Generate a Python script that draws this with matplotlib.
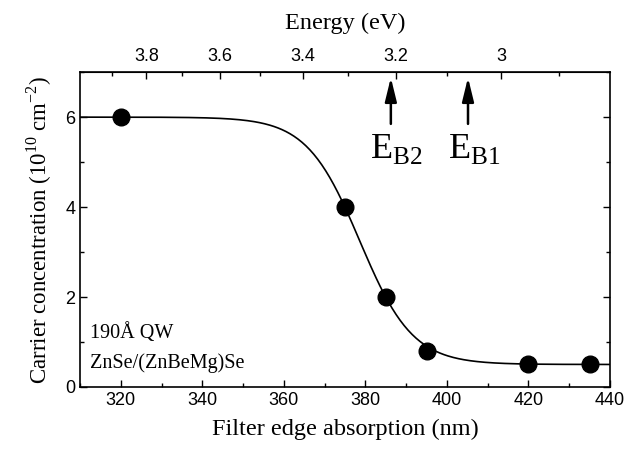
import matplotlib
matplotlib.use("Agg")
import matplotlib.pyplot as plt
import numpy as np

SANS = "Liberation Sans"
SERIF = "Liberation Serif"
plt.rcParams["font.family"] = SANS
plt.rcParams["mathtext.fontset"] = "custom"
plt.rcParams["mathtext.rm"] = SERIF

# measured points
wavelength = [320, 375, 385, 395, 420, 435]
carrier = [6.0, 4.0, 2.0, 0.8, 0.5, 0.5]

# Boltzmann fit through the points
fit_top, fit_bottom, fit_center, fit_width = 6.0, 0.5, 378.6, 6.5

energy_ticks = [3.8, 3.6, 3.4, 3.2, 3.0]
energy_labels = ["3.8", "3.6", "3.4", "3.2", "3"]
energy_minor = [3.9, 3.7, 3.5, 3.3, 3.1, 2.9]

# band edges marked with arrows (eV)
edge_names = ["E$_{\\mathrm{B2}}$", "E$_{\\mathrm{B1}}$"]
edge_energy = [3.21, 3.06]

HC = 1239.84  # eV nm

fig = plt.figure(figsize=(6.36, 4.51), dpi=100)
ax = fig.add_axes([0.126, 0.142, 0.833, 0.698])

xs = np.linspace(310, 440, 400)
ys = fit_bottom + (fit_top - fit_bottom) / (1 + np.exp((xs - fit_center) / fit_width))
ax.plot(xs, ys, color="black", lw=1.2, zorder=2)
ax.plot(wavelength, carrier, "o", color="black", ms=12, zorder=3)

ax.set_xlim(310, 440)
ax.set_ylim(0, 7)
ax.set_xticks(range(320, 441, 20))
ax.set_xticks(range(310, 441, 10), minor=True)
ax.set_yticks([0, 2, 4, 6])
ax.set_yticks([1, 3, 5, 7], minor=True)
ax.tick_params(which="both", direction="in", top=False, right=True,
               labelsize=13, width=1.0)
ax.tick_params(which="major", length=5)
ax.tick_params(which="minor", length=3)
for sp in ax.spines.values():
    sp.set_linewidth(1.2)

ax.set_xlabel("Filter edge absorption (nm)", family=SERIF, fontsize=17.5, labelpad=7)
ax.set_ylabel("Carrier concentration (10$^{10}$ cm$^{-2}$)", family=SERIF,
              fontsize=16.5, labelpad=8)

sec = ax.secondary_xaxis("top", functions=(lambda x: HC / x, lambda e: HC / e))
sec.set_xticks(energy_ticks)
sec.set_xticklabels(energy_labels)
sec.set_xticks(energy_minor, minor=True)
sec.tick_params(which="both", direction="in", labelsize=13, width=1.0, pad=5)
sec.tick_params(which="major", length=5)
sec.tick_params(which="minor", length=3)
sec.set_xlabel("Energy (eV)", family=SERIF, fontsize=17.5, labelpad=14)

for name, e in zip(edge_names, edge_energy):
    x = HC / e
    ax.annotate("", xy=(x, 6.88), xytext=(x, 5.85),
                arrowprops=dict(arrowstyle="-|>,head_width=0.22,head_length=0.9",
                                color="black", lw=1.8,
                                mutation_scale=16, shrinkA=0, shrinkB=0))
    ax.text(x - 5.0, 5.3, name, family=SERIF, fontsize=26, ha="left", va="center")

ax.text(312.5, 1.2, "190Å QW", family=SERIF, fontsize=14.5, ha="left", va="center")
ax.text(312.5, 0.52, "ZnSe/(ZnBeMg)Se", family=SERIF, fontsize=14.5, ha="left", va="center")

fig.savefig("out.png", dpi=100)
